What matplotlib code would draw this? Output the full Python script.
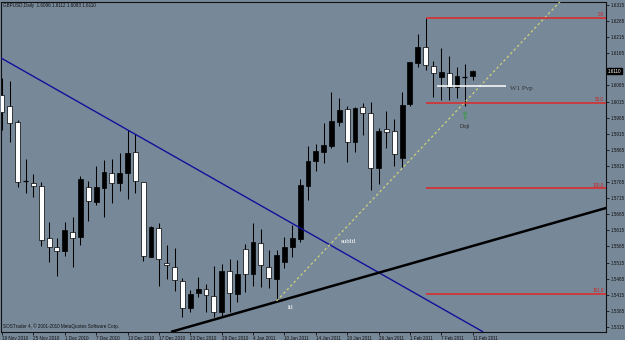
import matplotlib
matplotlib.use("Agg")
import matplotlib.pyplot as plt
import numpy as np

# ---------------- data (GBPUSD Daily, 19 Nov 2010 - 11 Feb 2011) ----------------
symbol = "GBPUSD,Daily"
date_labels = ["19 Nov 2010", "25 Nov 2010", "1 Dec 2010", "7 Dec 2010", "13 Dec 2010",
               "17 Dec 2010", "23 Dec 2010", "29 Dec 2010", "4 Jan 2011", "10 Jan 2011",
               "14 Jan 2011", "20 Jan 2011", "26 Jan 2011", "1 Feb 2011", "7 Feb 2011",
               "11 Feb 2011"]
open_ = [1.6036, 1.6002, 1.5951, 1.5768, 1.5763, 1.5753, 1.5591, 1.5564, 1.5552, 1.5611,
         1.5594, 1.5751, 1.5703, 1.5748, 1.5794, 1.5761, 1.5792, 1.5858, 1.5764, 1.5533,
         1.5622, 1.5513, 1.5502, 1.5458, 1.5375, 1.5420, 1.5432, 1.5412, 1.5361, 1.5489,
         1.5417, 1.5557, 1.5480, 1.5577, 1.5502, 1.5463, 1.5516, 1.5564, 1.5587, 1.5754,
         1.5832, 1.5858, 1.5878, 1.5953, 1.5991, 1.5890, 1.5999, 1.5980, 1.5810, 1.5929,
         1.5924, 1.5839, 1.6007, 1.6134, 1.6184, 1.6127, 1.6092, 1.6103, 1.6061, 1.6092,
         1.6096]
high = [1.6088, 1.6080, 1.5958, 1.5837, 1.5790, 1.5766, 1.5641, 1.5591, 1.5641, 1.5657,
        1.5784, 1.5769, 1.5815, 1.5834, 1.5837, 1.5854, 1.5927, 1.5914, 1.5766, 1.5629,
        1.5637, 1.5570, 1.5559, 1.5468, 1.5430, 1.5469, 1.5449, 1.5505, 1.5511, 1.5526,
        1.5523, 1.5573, 1.5639, 1.5619, 1.5554, 1.5554, 1.5595, 1.5632, 1.5774, 1.5877,
        1.5882, 1.5948, 1.6044, 1.6027, 1.6001, 1.5999, 1.6010, 1.6013, 1.5932, 1.5986,
        1.5960, 1.6046, 1.6139, 1.6225, 1.6276, 1.6142, 1.6181, 1.6157, 1.6122, 1.6132,
        1.6112]
low = [1.5927, 1.5890, 1.5751, 1.5732, 1.5719, 1.5568, 1.5518, 1.5474, 1.5536, 1.5500,
       1.5570, 1.5644, 1.5694, 1.5657, 1.5701, 1.5738, 1.5712, 1.5730, 1.5520, 1.5531,
       1.5443, 1.5464, 1.5427, 1.5345, 1.5361, 1.5409, 1.5361, 1.5347, 1.5347, 1.5361,
       1.5392, 1.5425, 1.5443, 1.5440, 1.5437, 1.5396, 1.5497, 1.5531, 1.5580, 1.5709,
       1.5800, 1.5825, 1.5870, 1.5940, 1.5828, 1.5858, 1.5911, 1.5740, 1.5759, 1.5870,
       1.5816, 1.5813, 1.6002, 1.6123, 1.6113, 1.6028, 1.6020, 1.6020, 1.6025, 1.6002,
       1.6083]
close = [1.5983, 1.5948, 1.5766, 1.5768, 1.5753, 1.5584, 1.5563, 1.5551, 1.5615, 1.5591,
         1.5774, 1.5706, 1.5750, 1.5797, 1.5761, 1.5793, 1.5854, 1.5768, 1.5536, 1.5627,
         1.5525, 1.5507, 1.5461, 1.5375, 1.5417, 1.5432, 1.5414, 1.5361, 1.5490, 1.5420,
         1.5479, 1.5480, 1.5578, 1.5507, 1.5466, 1.5539, 1.5564, 1.5591, 1.5756, 1.5831,
         1.5862, 1.5880, 1.5956, 1.5989, 1.5889, 1.5994, 1.5980, 1.5808, 1.5925, 1.5921,
         1.5852, 1.6004, 1.6137, 1.6186, 1.6129, 1.6103, 1.6106, 1.6061, 1.6095, 1.6092,
         1.6110]
price_ticks = [1.6315, 1.6265, 1.6215, 1.6165, 1.6065, 1.6015, 1.5965, 1.5915, 1.5865,
               1.5815, 1.5765, 1.5715, 1.5665, 1.5615, 1.5565, 1.5515, 1.5465, 1.5415,
               1.5365, 1.5315]

# drawn objects (bar index, price)
blue_line = [(0.34, 1.6144), (61.1, 1.5303)]
ltl_line = [(26.9, 1.5337), (76.92, 1.5684)]
dotted_ray = [(35.0, 1.5396), (71.0, 1.6322)]
fib_high, fib_low = 1.6276, 1.5746
fib_levels = [0.0, 50.0, 100.0, 161.8]
fib_start = 54
w1_pivot = 1.6062
w1_span = (55.4, 64.2)
doji_bar = 59

# ---------------- figure ----------------
BG = "#778899"
fig = plt.figure(figsize=(6.25, 3.4), dpi=100)
fig.patch.set_facecolor(BG)
ax = fig.add_axes([1.5 / 625, (340 - 331.5) / 340, 604 / 625, 329.5 / 340])
ax.set_facecolor(BG)

o = np.array(open_); h = np.array(high); l = np.array(low); c = np.array(close)
x = np.arange(len(o))
bw = 0.62

ax.vlines(x, l, h, color="black", lw=0.75, zorder=2)
bull = c > o
bear = c < o
doji = c == o
ax.bar(x[bull], (c - o)[bull], bottom=o[bull], width=bw, color="black",
       edgecolor="black", lw=0.5, zorder=3)
ax.bar(x[bear], (o - c)[bear], bottom=c[bear], width=bw, color="white",
       edgecolor="black", lw=0.5, zorder=3)
ax.hlines(o[doji], x[doji] - bw / 2, x[doji] + bw / 2, color="black", lw=0.9, zorder=3)

# trend lines
ax.axline(blue_line[0], blue_line[1], color="#11119a", lw=1.0, zorder=4)
ax.axline(ltl_line[0], ltl_line[1], color="black", lw=1.8, zorder=4)
(x0, y0), (x1, y1) = dotted_ray
slope = (y1 - y0) / (x1 - x0)
ax.plot([x0, 90], [y0, y0 + slope * (90 - x0)], color="#cfd27a", lw=0.9,
        linestyle=(0, (2, 2)), zorder=4)

# fibonacci levels
for lv in fib_levels:
    p = fib_high - (fib_high - fib_low) * lv / 100.0
    ax.hlines(p, fib_start, 90, color="#e02828", lw=1.1, zorder=4)
    ax.annotate(f"{lv:.1f}", xy=(1, p), xycoords=("axes fraction", "data"),
                xytext=(-1.2, 0.3), textcoords="offset points", ha="right", va="bottom",
                fontsize=3.3, color="#d02020", family="Liberation Sans")

# W1 pivot
ax.hlines(w1_pivot, w1_span[0], w1_span[1], color="white", lw=1.1, zorder=4)
ax.text(w1_span[1] + 0.6, w1_pivot - 0.0005, "W1 Pvp", fontsize=5, family="Liberation Serif",
        color="#333333", ha="left", va="center", zorder=5)

# doji marker
ax.text(doji_bar, low[doji_bar] - 0.0032, "\u21e7", fontsize=7, family="DejaVu Sans",
        color="#22a022", ha="center", va="center", zorder=5)
ax.text(doji_bar, low[doji_bar] - 0.0064, "Doji", fontsize=4.3, family="Liberation Sans",
        color="#333333", ha="center", va="center", zorder=5)

# line labels
ax.text(44.2, 1.5582, "subltl", fontsize=5, family="Liberation Serif", color="white",
        ha="center", va="center", zorder=5)
ax.text(36.85, 1.5376, "ltl", fontsize=5, family="Liberation Serif", color="white",
        ha="center", va="center", zorder=5)

# axes
ax.set_xlim(-0.064, 76.93)
ax.set_ylim(1.53010, 1.63243)
ax.yaxis.tick_right()
ax.set_yticks(price_ticks)
ax.set_yticklabels([f"{p:.4f}" for p in price_ticks], family="Liberation Sans")
ax.tick_params(axis="y", length=2.2, width=0.6, pad=1.2, labelsize=3.3,
               colors="#111111")
ax.set_xticks(x[::4])
ax.set_xticklabels(date_labels, ha="left", family="Liberation Sans")
ax.tick_params(axis="x", length=2.5, width=0.6, pad=0.8, labelsize=3.3, colors="#111111")
for s in ax.spines.values():
    s.set_color("#111111")
    s.set_linewidth(0.8)

# current price box
ax.annotate(f"{close[-1]:.4f}", xy=(1, close[-1]), xycoords=("axes fraction", "data"),
            xytext=(1.4, 0), textcoords="offset points", ha="left", va="center",
            fontsize=3.3, color="white", family="Liberation Sans",
            bbox=dict(boxstyle="square,pad=0.2", fc="black", ec="black"),
            annotation_clip=False, zorder=10)

# header / footer texts
fig.text(3 / 625, 1 - 5.5 / 340,
         f"{symbol}  {open_[-1]:.4f} {high[-1]:.4f} {low[-1]:.4f} {close[-1]:.4f}",
         fontsize=3.3, family="Liberation Sans", color="#111111", ha="left", va="center")
fig.text(3 / 625, 1 - 326.5 / 340, "SOSTrader 4, \u00a9 2001-2010 MetaQuotes Software Corp.",
         fontsize=3.3, family="Liberation Sans", color="#111111", ha="left", va="center")

fig.savefig("out.png", dpi=100, facecolor=BG)
